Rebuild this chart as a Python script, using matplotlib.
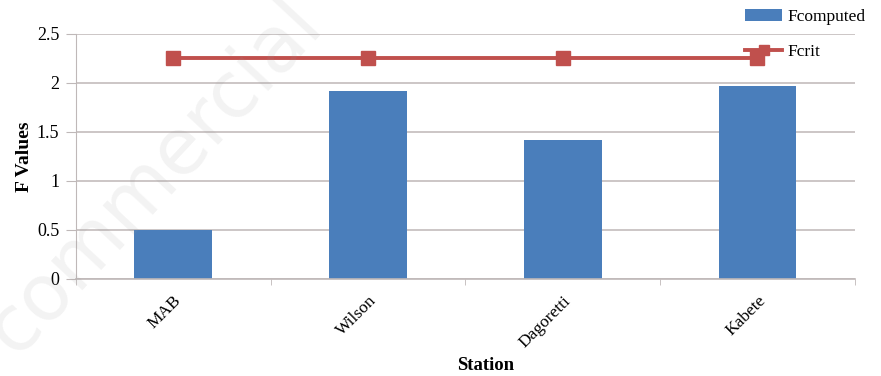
import numpy as np
import matplotlib
matplotlib.use('Agg')
import matplotlib.pyplot as plt

# station names and F values
stations = ['MAB', 'Wilson', 'Dagoretti', 'Kabete']
f_computed = [0.50, 1.92, 1.42, 1.97]
f_crit = [2.25, 2.25, 2.25, 2.25]
yticks = [0, 0.5, 1, 1.5, 2, 2.5]
ytick_labels = ['0', '0.5', '1', '1.5', '2', '2.5']

plt.rcParams['font.family'] = ['Liberation Serif', 'DejaVu Serif']

fig = plt.figure(figsize=(8.81, 3.76), dpi=100)
ax = fig.add_axes([0.0863, 0.258, 0.884, 0.6516])

x = np.arange(len(stations))
bars = ax.bar(x, f_computed, width=0.4, color='#4a7ebb', zorder=2, label='Fcomputed')
line, = ax.plot(x, f_crit, color='#c0504d', lw=2.8, marker='s', markersize=10,
                zorder=3, label='Fcrit')

ax.set_xlim(-0.5, len(stations) - 0.5)
ax.set_ylim(0, 2.5)
ax.set_yticks(yticks)
ax.set_yticklabels(ytick_labels, fontsize=13)
ax.set_xticks(x)
ax.set_xticklabels(stations, rotation=45, ha='right', va='top', rotation_mode='anchor',
                   fontsize=12.5)
ax.set_xticks(np.arange(-0.5, len(stations)), minor=True)
ax.tick_params(axis='x', which='major', length=0, pad=10)
ax.tick_params(axis='x', which='minor', length=4, color='#bfb8b8')
ax.tick_params(axis='y', length=7, color='#bfb8b8', pad=5)

ax.grid(axis='y', color='#c4bcbc', lw=1.2, zorder=0)
for s in ['top', 'right']:
    ax.spines[s].set_visible(False)
ax.spines['left'].set_color('#bfb8b8')
ax.spines['bottom'].set_color('#bfb8b8')
ax.spines['bottom'].set_linewidth(1.2)

ax.set_xlabel('Station', fontsize=13.5, fontweight='bold')
ax.xaxis.set_label_coords(0.526, -0.355)
ax.xaxis.label.set_va('center')
ax.set_ylabel('F Values', fontsize=14, fontweight='bold')
ax.yaxis.set_label_coords(-0.066, 0.5)
ax.yaxis.label.set_va('center')

leg = fig.legend(handles=[bars, line], loc='upper left', bbox_to_anchor=(0.846, 0.977),
                 frameon=False, fontsize=12.5, handlelength=2.1, handletextpad=0.3,
                 labelspacing=1.1, borderpad=0, borderaxespad=0, markerscale=0.7)

# faint watermark across the left part
fig.text(0.175, 0.53, 'commercial', rotation=47, fontsize=56, color='#999999', alpha=0.12,
         ha='center', va='center', family='DejaVu Sans', zorder=10)

fig.savefig('out.png', dpi=100)
